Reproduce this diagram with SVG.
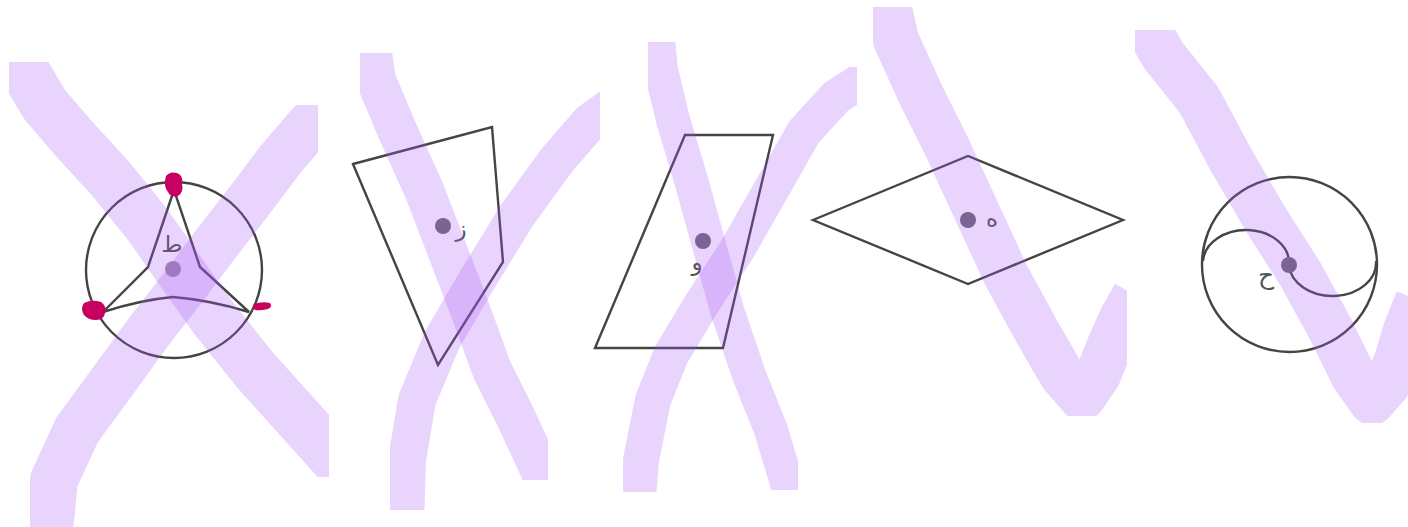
<svg xmlns="http://www.w3.org/2000/svg" width="1408" height="527" viewBox="0 0 1408 527">
<style>
.ln{fill:none;stroke:#444;stroke-width:2.4;stroke-linejoin:miter}
.dot{fill:#6f6872}
.lbl{font-family:"DejaVu Sans",sans-serif;font-size:23px;fill:#555;text-anchor:middle}
.mk{fill:none;stroke:#a855f7;stroke-opacity:0.25;stroke-linecap:butt;stroke-linejoin:round}
.blob{fill:#c8005f}
</style>
<defs>
<clipPath id="c1a"><rect x="9" y="62" width="320" height="415"/></clipPath>
<clipPath id="c1b"><rect x="30" y="105" width="288" height="422"/></clipPath>
<clipPath id="c2a"><rect x="360" y="53" width="188" height="427"/></clipPath>
<clipPath id="c2b"><rect x="390" y="90" width="210" height="420"/></clipPath>
<clipPath id="c3a"><rect x="648" y="42" width="150" height="448"/></clipPath>
<clipPath id="c3b"><rect x="623" y="67" width="234" height="425"/></clipPath>
<clipPath id="c4"><rect x="873" y="7" width="254" height="409"/></clipPath>
<clipPath id="c5"><rect x="1135" y="30" width="273" height="393"/></clipPath>
</defs>
<rect width="1408" height="527" fill="#fff"/>

<g id="shape-ta">
<circle class="ln" cx="174" cy="270" r="88"/>
<path class="ln" d="M174,190 L148,267 L103,312 Q140,300 173,297 Q210,300 249,312 L200,267 Z"/>
<circle class="dot" cx="173" cy="269" r="8" fill-opacity="0.7"/>
<text class="lbl" x="172" y="252">ط</text>
<path class="blob" d="M166,176 Q170,171 177,173 Q184,176 182,184 Q184,192 178,196 Q171,198 168,192 Q163,186 166,176 Z"/>
<path class="blob" d="M84,303 Q92,299 101,302 Q107,306 105,313 Q104,320 96,320 Q88,320 84,315 Q80,309 84,303 Z"/>
<path class="blob" d="M254,304 Q262,301 270,303 Q273,307 268,309 Q260,311 255,310 Q252,307 254,304 Z"/>
</g>

<g id="shape-zay">
<path class="ln" d="M353,164 L492,127 L503,262 L438,365 Z"/>
<circle class="dot" cx="443" cy="226" r="8"/>
<text class="lbl" x="461" y="236">ز</text>
</g>

<g id="shape-waw">
<path class="ln" d="M685,135 L773,135 L723,348 L595,348 Z"/>
<circle class="dot" cx="703" cy="241" r="8"/>
<text class="lbl" x="697" y="270">و</text>
</g>

<g id="shape-ha">
<path class="ln" d="M813,220 L968,156 L1123,220 L968,284 Z"/>
<circle class="dot" cx="968" cy="220" r="8"/>
<text class="lbl" x="992" y="227">ه</text>
</g>

<g id="shape-hah">
<circle class="ln" cx="1289.5" cy="264.5" r="87.5"/>
<path class="ln" d="M1203,261 A43,33 0 0 1 1289,265 A43.5,33 0 0 0 1376,261"/>
<circle class="dot" cx="1289" cy="265" r="8"/>
<text class="lbl" x="1266" y="284" style="font-size:25px">ح</text>
</g>

<g id="connectors"/>

<g id="marks">
<polyline class="mk" clip-path="url(#c1a)" stroke-width="50" points="12,50 45,105 75,140 110,178 148,225 183,275 215,320 255,370 300,420 345,470"/>
<polyline class="mk" clip-path="url(#c1b)" stroke-width="48" points="48,540 54,480 77,430 110,385 150,330 185,285 215,245 250,200 280,160 310,125 335,100"/>
<polyline class="mk" clip-path="url(#c2a)" stroke-width="40" points="370,40 376,80 397,130 424,190 449,255 472,315 492,370 517,420 540,470 555,495"/>
<polyline class="mk" clip-path="url(#c2b)" stroke-width="38" points="405,525 407,460 417,400 442,340 477,280 517,215 557,160 590,122 625,97"/>
<polyline class="mk" clip-path="url(#c3a)" stroke-width="34" points="657,30 661,70 673,120 691,180 709,245 727,310 749,375 771,430 786,480 793,505"/>
<polyline class="mk" clip-path="url(#c3b)" stroke-width="36" points="637,510 641,460 653,400 671,355 701,305 738,248 771,190 804,132 836,97 875,72"/>
<polyline class="mk" clip-path="url(#c4)" stroke-width="46" points="886,-5 896,40 921,95 946,145 976,210 1006,275 1036,330 1062,375 1082,398 1098,375 1110,345 1122,318 1135,295"/>
<polyline class="mk" clip-path="url(#c5)" stroke-width="46" points="1142,18 1163,55 1199,100 1231,160 1266,220 1301,275 1331,330 1353,375 1372,402 1387,385 1397,360 1406,330 1418,300"/>
</g>
</svg>
